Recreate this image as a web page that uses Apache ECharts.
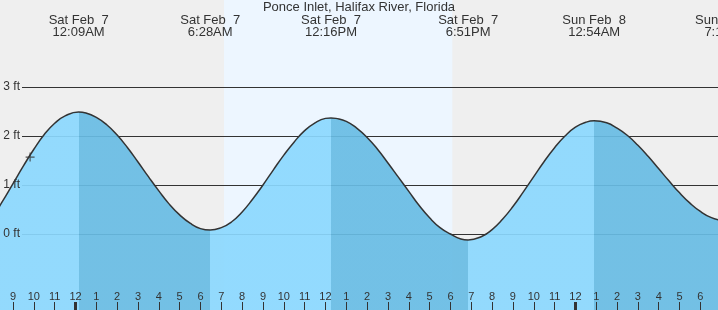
<!DOCTYPE html>
<html><head><meta charset="utf-8">
<script src="https://cdn.jsdelivr.net/npm/echarts@6/dist/echarts.min.js"></script>
<style>html,body{margin:0;padding:0;background:#efefef;overflow:hidden}#c{width:718px;height:310px}</style>
</head><body><div id="c"></div>
<script>
// hours from Sat Feb 7 00:00 local
const tideHours = [-4.5,-4,-3.5,-3,-2.5,-2,-1.5,-1,-0.5,0.15,0.5,1,1.5,2,2.5,3,3.5,4,4.5,5,5.5,6,6.467,7,7.5,8,8.5,9,9.5,10,10.5,11,11.5,12,12.267,12.5,13,13.5,14,14.5,15,15.5,16,16.5,17,17.5,18,18.5,18.85,19.5,20,20.5,21,21.5,22,22.5,23,23.5,24,24.5,24.9,25.5,26,26.5,27,27.5,28,28.5,29,29.5,30,30.5,31,31.267];
const tideFeet  = [0.03,0.33,0.67,1.03,1.39,1.73,2.03,2.26,2.41,2.49,2.47,2.38,2.23,2.02,1.76,1.47,1.17,0.88,0.61,0.39,0.22,0.11,0.08,0.13,0.25,0.45,0.71,1.00,1.31,1.61,1.88,2.11,2.27,2.36,2.37,2.36,2.30,2.16,1.97,1.73,1.45,1.16,0.87,0.58,0.33,0.13,0.00,-0.10,-0.12,-0.05,0.09,0.30,0.56,0.86,1.17,1.48,1.76,2.00,2.18,2.28,2.31,2.27,2.16,2.01,1.81,1.58,1.33,1.08,0.84,0.63,0.46,0.34,0.28,0.27];
const extremeHours = [0.15, 6.467, 12.267, 18.85, 24.9, 31.267];
const extremeLabels = ['Sat Feb  7\n12:09AM', 'Sat Feb  7\n6:28AM', 'Sat Feb  7\n12:16PM', 'Sat Feb  7\n6:51PM', 'Sun Feb  8\n12:54AM', 'Sun Feb  8\n7:16AM'];
const hourTicks = [-3,-2,-1,0,1,2,3,4,5,6,7,8,9,10,11,12,13,14,15,16,17,18,19,20,21,22,23,24,25,26,27,28,29,30];
const hourLabels = ['9','10','11','12','1','2','3','4','5','6','7','8','9','10','11','12','1','2','3','4','5','6','7','8','9','10','11','12','1','2','3','4','5','6'];
const midnightTicks = [0, 24];
const feetTicks = [0, 1, 2, 3];
const daylight = [7.13, 18.09];
const nowPoint = [-2.18, 1.57];
const titleText = 'Ponce Inlet, Halifax River, Florida';

const X_MIN = -3.625, X_MAX = 30.845;
const FONT = 'Liberation Sans, Arial, sans-serif';
const TXT = '#333';
const LIGHT = '#8bd8fe', DARK = '#68bce4';

const tideData = tideHours.map((h, i) => [h, tideFeet[i]]);
const pieces = [];
let prev = -Infinity;
extremeHours.forEach((h, i) => {
  const p = {lt: h, color: i % 2 === 0 ? LIGHT : DARK};
  if (prev !== -Infinity) p.gte = prev;
  pieces.push(p);
  prev = h;
});
pieces.push({gte: prev, color: LIGHT});

const chart = echarts.init(document.getElementById('c'), null, {renderer: 'canvas'});
chart.setOption({
  animation: false,
  backgroundColor: '#efefef',
  title: {text: titleText, left: 'center', top: 1, padding: 0, z: 20,
    textStyle: {fontFamily: FONT, fontSize: 13, fontWeight: 'normal', color: TXT, lineHeight: 13}},
  grid: [
    {left: 0, right: 0, top: 0, bottom: 0, containLabel: false, outerBoundsMode: 'none'},
    {left: 22, right: 0, top: 87, bottom: 76, containLabel: false, outerBoundsMode: 'none'},
    {left: 22, right: 0, top: 87, bottom: 76, containLabel: false, outerBoundsMode: 'none'},
    {left: 0, right: -30, top: 40, height: 10, containLabel: false, outerBoundsMode: 'none'}
  ],
  xAxis: [
    {type: 'value', gridIndex: 0, min: X_MIN, max: X_MAX, position: 'bottom', z: 10,
      axisLine: {show: false, onZero: false}, splitLine: {show: false},
      axisTick: {show: true, inside: true, length: 8, customValues: hourTicks, lineStyle: {color: TXT, width: 1}},
      axisLabel: {show: true, inside: true, margin: 8, customValues: hourTicks, fontFamily: FONT, fontSize: 11, color: TXT,
        formatter: v => hourLabels[hourTicks.indexOf(Math.round(v))]}},
    {type: 'value', gridIndex: 1, min: 0, max: 1, show: false},
    {type: 'value', gridIndex: 2, min: 0, max: 1, show: false},
    {type: 'value', gridIndex: 3, min: X_MIN, max: (748 - 75.5) / 20.83, position: 'top', z: 20,
      axisLine: {show: false, onZero: false}, axisTick: {show: false}, splitLine: {show: false},
      axisLabel: {show: true, margin: 2, customValues: extremeHours, fontFamily: FONT, fontSize: 13, lineHeight: 12, color: TXT,
        hideOverlap: false, showMinLabel: true, showMaxLabel: true,
        formatter: v => { let k = 0, d = 1e9; extremeHours.forEach((h, i) => { if (Math.abs(h - v) < d) { d = Math.abs(h - v); k = i; } }); return extremeLabels[k]; }}},
    {type: 'value', gridIndex: 0, min: X_MIN, max: X_MAX, position: 'bottom', z: 11,
      axisLine: {show: false, onZero: false}, splitLine: {show: false}, axisLabel: {show: false},
      axisTick: {show: true, inside: true, length: 8, customValues: midnightTicks, lineStyle: {color: TXT, width: 3}}}
  ],
  yAxis: [
    {type: 'value', gridIndex: 0, min: -1.551, max: 4.776, show: false},
    {type: 'value', gridIndex: 1, min: 0, max: 3, interval: 1, z: 3,
      axisLine: {show: false}, axisTick: {show: false}, axisLabel: {show: false},
      splitLine: {show: true, lineStyle: {color: '#333', width: 1}}},
    {type: 'value', gridIndex: 2, min: 0, max: 3, interval: 1, z: 10,
      axisLine: {show: false}, axisTick: {show: false}, splitLine: {show: false},
      axisLabel: {show: true, margin: 2, fontFamily: FONT, fontSize: 12, color: TXT, formatter: '{value} ft'}},
    {type: 'value', gridIndex: 3, show: false}
  ],
  visualMap: {type: 'piecewise', show: false, seriesIndex: 1, dimension: 0, pieces: pieces},
  series: [
    {type: 'line', xAxisIndex: 0, yAxisIndex: 0, z: 0, data: tideData, symbol: 'none', silent: true,
      lineStyle: {opacity: 0},
      markArea: {silent: true, itemStyle: {color: '#edf6ff'}, data: [[{xAxis: daylight[0]}, {xAxis: daylight[1]}]]}},
    {type: 'line', xAxisIndex: 0, yAxisIndex: 0, z: 5, data: tideData, smooth: true, symbol: 'none', silent: true,
      lineStyle: {width: 0}, areaStyle: {opacity: 0.92, origin: 'start'}},
    {type: 'line', xAxisIndex: 0, yAxisIndex: 0, z: 6, data: tideData, smooth: true, symbol: 'none', silent: true,
      lineStyle: {color: '#333', width: 1.5}},
    {type: 'scatter', xAxisIndex: 0, yAxisIndex: 0, z: 7, data: [nowPoint], silent: true,
      symbol: 'path://M5,0L5,10M0,5L10,5', symbolSize: 9,
      itemStyle: {color: 'none', borderColor: '#333', borderWidth: 1.2}}
  ]
});
</script>
</body></html>
